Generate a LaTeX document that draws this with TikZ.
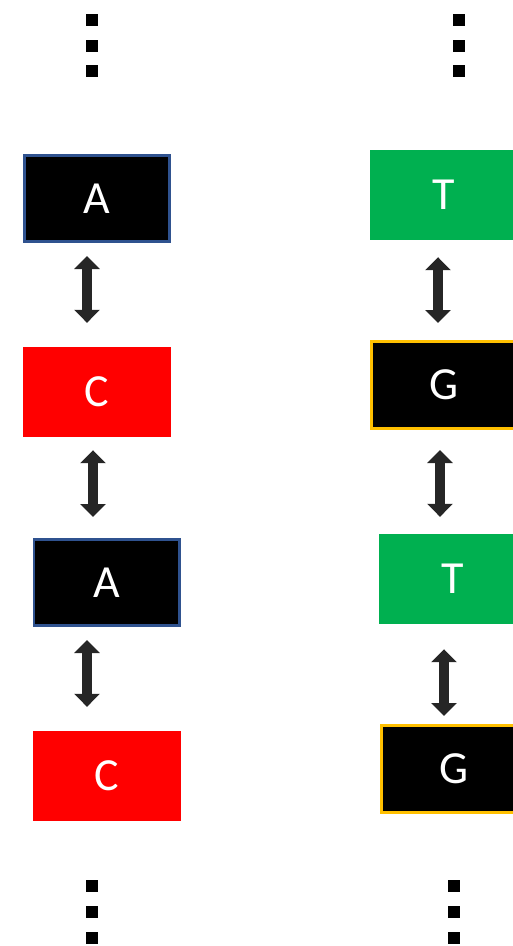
\documentclass[tikz,border=0pt]{standalone}
\usepackage{fontspec}
\setmainfont{Carlito}
\usetikzlibrary{arrows.meta,calc}
\definecolor{boxblue}{HTML}{2F528F}
\definecolor{boxorange}{HTML}{FFC000}
\definecolor{basegreen}{HTML}{00B050}
\definecolor{arrowgray}{HTML}{262626}
\tikzset{
  base/.style={minimum width=148pt, minimum height=90pt, inner sep=0pt,
    text=white, font=\fontsize{46}{50}\selectfont},
  baseA/.style={base, fill=black, draw=boxblue, line width=2.6pt,
    minimum width=145.4pt, minimum height=86.4pt},
  baseC/.style={base, fill=red},
  baseT/.style={base, fill=basegreen},
  baseG/.style={base, fill=black, draw=boxorange, line width=2.6pt,
    minimum width=145.4pt, minimum height=87.4pt},
  pairing/.style={draw=arrowgray, line width=10pt,
    {Triangle[width=25pt,length=13pt]}-{Triangle[width=25pt,length=13pt]}},
  dot/.style={fill=black}
}
\begin{document}
\begin{tikzpicture}[x=1pt,y=-1pt]
  \useasboundingbox (0,0) rectangle (513,946);
  \begin{scope}
    \clip (0,0) rectangle (513,946);

    % left strand
    \node[baseA] (A1) at (97,198.5) {A};
    \node[baseC] (C1) at (97,392) {C};
    \node[baseA] (A2) at (106.5,582.5) {A};
    \node[baseC] (C2) at (106.5,776) {C};

    % right strand
    \node[baseT] (T1) at (444,195) {T};
    \node[baseG] (G1) at (444,385) {G};
    \node[baseT] (T2) at (453,579) {T};
    \node[baseG] (G2) at (454,769) {G};

    % links within each strand
    \draw[pairing] ($(87,0 |- A1.south)+(0,13)$) -- ($(87,0 |- C1.north)+(0,-24)$);
    \draw[pairing] ($(93,0 |- C1.south)+(0,13)$) -- ($(93,0 |- A2.north)+(0,-21)$);
    \draw[pairing] ($(87,0 |- A2.south)+(0,13)$) -- ($(87,0 |- C2.north)+(0,-24)$);
    \draw[pairing] ($(438,0 |- T1.south)+(0,17)$) -- ($(438,0 |- G1.north)+(0,-17)$);
    \draw[pairing] ($(440,0 |- G1.south)+(0,20)$) -- ($(440,0 |- T2.north)+(0,-17)$);
    \draw[pairing] ($(444,0 |- T2.south)+(0,25)$) -- ($(444,0 |- G2.north)+(0,-8)$);

    % continuation marks
    \foreach \x/\y in {92/19.5, 92/45.5, 92/71, 459/19.5, 459/45.5, 459/71,
                       92/886, 92/912, 92/937.5, 453.5/886, 453.5/912, 453.5/937.5}
      \fill[dot] (\x-6,\y-6) rectangle (\x+6,\y+6);
  \end{scope}
\end{tikzpicture}
\end{document}
